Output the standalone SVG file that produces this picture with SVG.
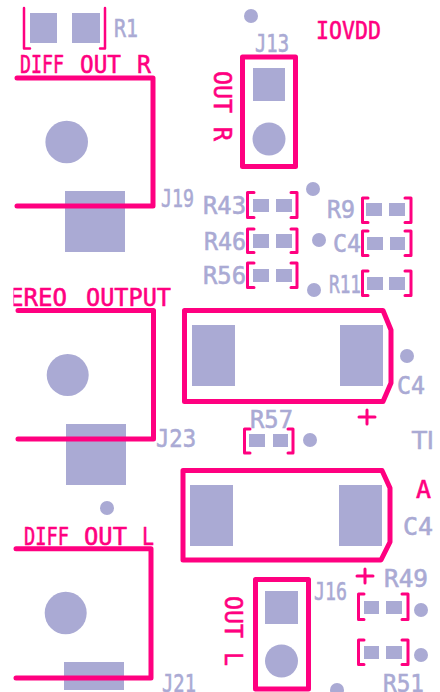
<svg xmlns="http://www.w3.org/2000/svg" width="440" height="692" viewBox="0 0 440 692">
<style>
.p{fill:#aaaad4}
.o{fill:none;stroke:#ff0080;stroke-width:5;stroke-linejoin:round;stroke-linecap:round}
.b{fill:none;stroke:#ff0080;stroke-width:3;stroke-linejoin:round;stroke-linecap:round}
text{font-family:"DejaVu Sans Mono","Liberation Mono",monospace;font-size:25px;stroke-width:.6px}
.s{fill:#ff0080;stroke:#ff0080}
.l{fill:#aaaad4;stroke:#aaaad4}
</style>
<defs><clipPath id="clipE"><rect x="13.500" y="280" width="170" height="30"/></clipPath></defs>
<rect width="440" height="692" fill="#fff"/>
<g id="R1"><rect class="p" x="30" y="13" width="27" height="30"/><rect class="p" x="72" y="13" width="28" height="30"/><path class="b" style="stroke-width:2.5" d="M24,8V48.500H30M105,8V48.500H100"/><text class="l" x="114" y="37" textLength="24" lengthAdjust="spacingAndGlyphs">R1</text></g>
<g id="J19"><rect class="p" x="65" y="191" width="60" height="61"/><circle class="p" cx="66.700" cy="142" r="21.300"/><path class="o" d="M17,78H153V206H17"/><text class="s" y="73"><tspan x="20" textLength="44" lengthAdjust="spacingAndGlyphs">DIFF</tspan> <tspan x="80" textLength="41" lengthAdjust="spacingAndGlyphs">OUT</tspan> <tspan x="137" textLength="14" lengthAdjust="spacingAndGlyphs">R</tspan></text><text class="l" x="161" y="207" textLength="33" lengthAdjust="spacingAndGlyphs">J19</text></g>
<g id="J13"><rect class="p" x="253" y="68" width="32" height="33"/><circle class="p" cx="269" cy="139" r="16.500"/><rect class="o" x="242.500" y="57" width="53" height="109.500"/><text class="l" x="255" y="52" textLength="34" lengthAdjust="spacingAndGlyphs">J13</text><text class="s" transform="translate(214,71) rotate(90)" textLength="70" lengthAdjust="spacingAndGlyphs">OUT R</text></g>
<circle id="dot1" class="p" cx="251" cy="16" r="7"/>
<text id="IOVDD" class="s" x="316" y="39" textLength="65" lengthAdjust="spacingAndGlyphs">IOVDD</text>
<circle id="dot2" class="p" cx="313" cy="189" r="7"/>
<g id="R43"><rect class="p" x="253" y="199" width="16" height="13"/><rect class="p" x="276" y="199" width="16" height="13"/><path class="b" d="M254,192.500H247.500V217.500H254M291,192.500H297V217.500H291"/><text class="l" x="203" y="214" textLength="43" lengthAdjust="spacingAndGlyphs">R43</text></g>
<g id="R9"><rect class="p" x="366" y="203" width="16" height="13"/><rect class="p" x="389" y="203" width="16" height="13"/><path class="b" d="M368,198H362.500V222.500H368M405,198H411V222.500H405"/><text class="l" x="327" y="218" textLength="28" lengthAdjust="spacingAndGlyphs">R9</text></g>
<g id="R46"><rect class="p" x="253" y="234" width="16" height="14"/><rect class="p" x="276" y="234" width="16" height="14"/><path class="b" d="M254,229H247.500V252.500H254M291,229H297V252.500H291"/><text class="l" x="204" y="250" textLength="42" lengthAdjust="spacingAndGlyphs">R46</text></g>
<circle id="dot3" class="p" cx="319" cy="240" r="7"/>
<g id="C4a"><rect class="p" x="367" y="237" width="16" height="13"/><rect class="p" x="390" y="237" width="15" height="13"/><path class="b" d="M368,231H362.500V255.500H368M405,231H411V255.500H405"/><text class="l" x="333" y="252" textLength="28" lengthAdjust="spacingAndGlyphs">C4</text></g>
<g id="R56"><rect class="p" x="253" y="269" width="16" height="13"/><rect class="p" x="276" y="269" width="16" height="13"/><path class="b" d="M254,263H247.500V287.500H254M291,263H297V287.500H291"/><text class="l" x="203" y="284" textLength="43" lengthAdjust="spacingAndGlyphs">R56</text></g>
<circle id="dot4" class="p" cx="314" cy="290" r="7"/>
<g id="R11"><rect class="p" x="367" y="277" width="16" height="13"/><rect class="p" x="389" y="277" width="16" height="13"/><path class="b" d="M368,271H362.500V295.500H368M405,271H411V295.500H405"/><text class="l" x="329" y="293" textLength="32" lengthAdjust="spacingAndGlyphs">R11</text></g>
<g id="C4b"><rect class="p" x="192" y="325" width="43" height="61"/><rect class="p" x="340" y="325" width="43" height="61"/><path class="o" d="M184.500,310.500H383L391,330V383L383,401.500H184.500Z"/><text class="l" x="397" y="394" textLength="28" lengthAdjust="spacingAndGlyphs">C4</text><path class="b" d="M359,417H375M367,410V424"/></g>
<circle id="dot5" class="p" cx="407" cy="356" r="7"/>
<g id="J23"><rect class="p" x="66" y="424" width="60" height="61"/><circle class="p" cx="67.700" cy="375" r="21"/><path class="o" d="M18,310.500H153.500V439H18"/><text class="s" y="306" clip-path="url(#clipE)"><tspan x="9" textLength="58" lengthAdjust="spacingAndGlyphs">EREO</tspan> <tspan x="86" textLength="85" lengthAdjust="spacingAndGlyphs">OUTPUT</tspan></text><text class="l" x="156" y="447" textLength="40" lengthAdjust="spacingAndGlyphs">J23</text></g>
<g id="R57"><rect class="p" x="249" y="434" width="16" height="13"/><rect class="p" x="273" y="434" width="15" height="13"/><path class="b" d="M250,429H244.500V453H250M288,429H293V453H288"/><text class="l" x="250" y="428" textLength="43" lengthAdjust="spacingAndGlyphs">R57</text></g>
<circle id="dot6" class="p" cx="310" cy="440" r="7"/>
<text id="TI" class="l" x="412" y="449" textLength="22" lengthAdjust="spacingAndGlyphs" style="font-family:'DejaVu Sans',sans-serif">TI</text>
<g id="C4c"><rect class="p" x="190" y="485" width="43" height="61"/><rect class="p" x="339" y="485" width="43" height="61"/><path class="o" d="M183,470.500H382L390,488V542L381,560H183Z"/><text class="s" x="416" y="498" textLength="15" lengthAdjust="spacingAndGlyphs">A</text><text class="l" x="403" y="535" textLength="30" lengthAdjust="spacingAndGlyphs">C4</text><path class="b" d="M357,576H373M365,569V583"/></g>
<circle id="dot7" class="p" cx="107" cy="508" r="7"/>
<g id="J21"><rect class="p" x="64" y="662" width="60" height="28"/><ellipse class="p" cx="65.700" cy="613" rx="21" ry="21.300"/><path class="o" d="M16,548.700H151V678H16"/><text class="s" y="545"><tspan x="24" textLength="45" lengthAdjust="spacingAndGlyphs">DIFF</tspan> <tspan x="84" textLength="43" lengthAdjust="spacingAndGlyphs">OUT</tspan> <tspan x="142" textLength="12" lengthAdjust="spacingAndGlyphs">L</tspan></text><text class="l" x="162" y="692" textLength="34" lengthAdjust="spacingAndGlyphs">J21</text></g>
<g id="J16"><rect class="p" x="265" y="591" width="33" height="33"/><circle class="p" cx="281.500" cy="661" r="16.500"/><rect class="o" x="255.500" y="579.500" width="53" height="109.500"/><text class="l" x="314" y="600" textLength="33" lengthAdjust="spacingAndGlyphs">J16</text><text class="s" transform="translate(225,596) rotate(90)" textLength="70" lengthAdjust="spacingAndGlyphs">OUT L</text></g>
<g id="R49"><rect class="p" x="364" y="601" width="15" height="13"/><rect class="p" x="386" y="601" width="16" height="13"/><path class="b" d="M364,594H358.500V619.500H364M402,594H408V619.500H402"/><text class="l" x="384" y="587" textLength="44" lengthAdjust="spacingAndGlyphs">R49</text></g>
<circle id="dot8" class="p" cx="421" cy="610" r="7"/>
<g id="R51"><rect class="p" x="364" y="646" width="15" height="13"/><rect class="p" x="386" y="646" width="16" height="13"/><path class="b" d="M364,640H358.500V664.500H364M402,640H408V664.500H402"/><text class="l" x="383" y="692" textLength="41" lengthAdjust="spacingAndGlyphs">R51</text></g>
<circle id="dot9" class="p" cx="421" cy="655" r="7"/>
<circle id="dot10" class="p" cx="337" cy="690" r="7"/>
</svg>
